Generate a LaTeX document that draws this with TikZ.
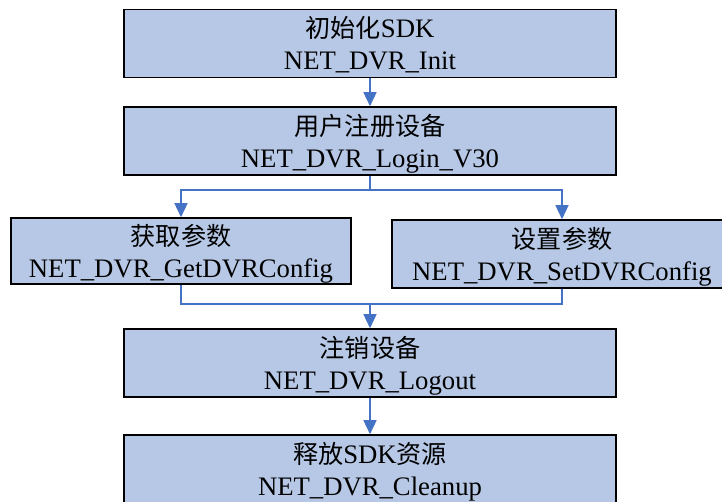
\documentclass[tikz,border=0pt]{standalone}
\usepackage{fontspec}
\setmainfont{Liberation Serif}
\newfontfamily\cjk[Scale=0.94]{Noto Sans CJK SC}
\usetikzlibrary{arrows.meta}
\definecolor{boxfill}{HTML}{B6C8E5}
\definecolor{flowblue}{HTML}{4472C4}
\tikzset{
	stage/.style={draw=black, line width=1.6pt, fill=boxfill, align=center,
		minimum width=492pt, minimum height=68pt, inner sep=0pt,
		text height=52pt, text depth=0pt,
		font=\fontsize{26.7}{32}\selectfont},
	stagesmall/.style={stage, minimum width=340pt, minimum height=66pt},
	link/.style={draw=flowblue, line width=1.5pt},
	flow/.style={link, -{Triangle[width=13pt,length=14pt]}}
}
\begin{document}
\begin{tikzpicture}[x=1pt, y=-1pt]
	\useasboundingbox (0,0) rectangle (722,501);
	%boxes
	\node[stage] (init) at (370,43.5) {{\cjk 初始化}SDK\\NET\_DVR\_Init};
	\node[stage] (login) at (370,141) {{\cjk 用户注册设备}\\NET\_DVR\_Login\_V30};
	\node[stagesmall] (getcfg) at (181,251) {{\cjk 获取参数}\\NET\_DVR\_GetDVRConfig};
	\node[stagesmall, minimum height=68pt] (setcfg) at (562,254) {{\cjk 设置参数}\\NET\_DVR\_SetDVRConfig};
	\node[stage] (logout) at (370,363) {{\cjk 注销设备}\\NET\_DVR\_Logout};
	\node[stage] (cleanup) at (370,469) {{\cjk 释放}SDK{\cjk 资源}\\NET\_DVR\_Cleanup};
	%branch points
	\coordinate (split) at (370,190);
	\coordinate (merge) at (370,304);
	%arrows
	\draw[flow] (init) -- (login);
	\draw[link] (login) -- (split);
	\draw[flow] (split) -| (getcfg);
	\draw[flow] (split) -| (setcfg);
	\draw[link] (getcfg) |- (merge);
	\draw[link] (setcfg) |- (merge);
	\draw[flow] (merge) -- (logout);
	\draw[flow] (logout) -- (cleanup);
\end{tikzpicture}
\end{document}
